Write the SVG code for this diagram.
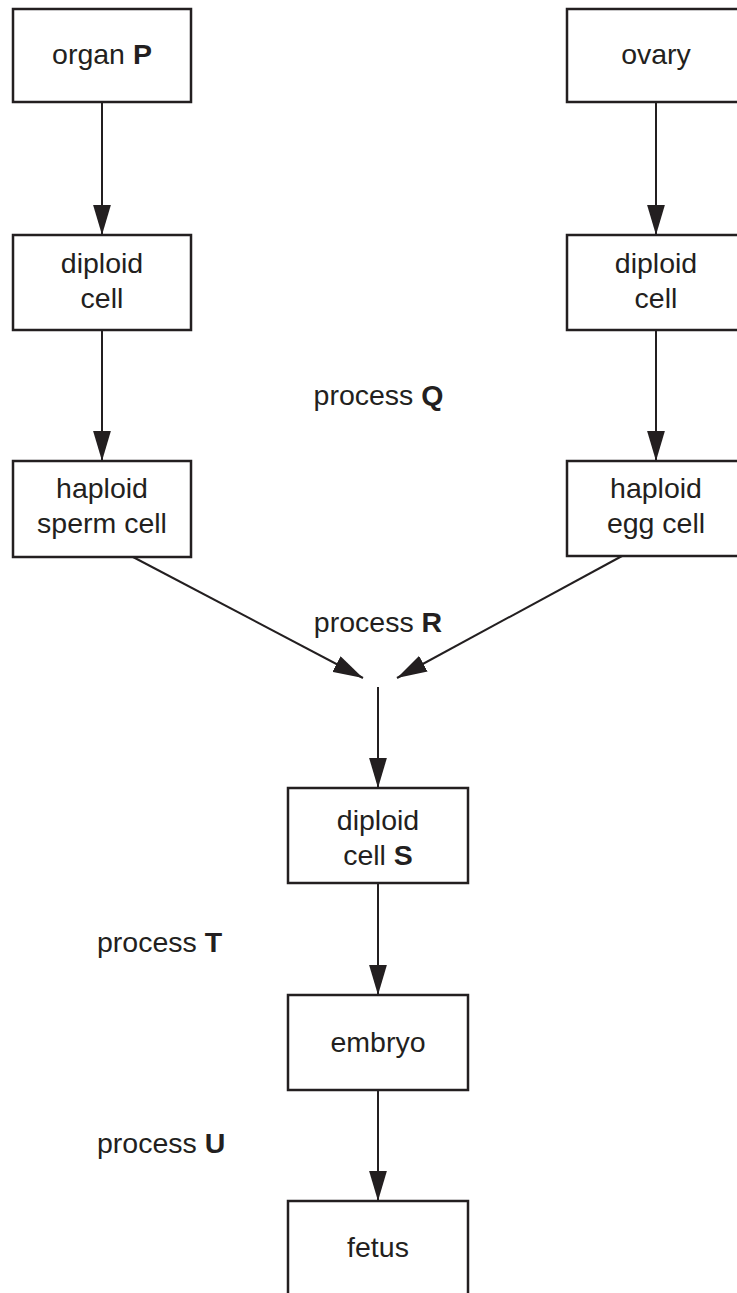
<svg xmlns="http://www.w3.org/2000/svg" width="737" height="1293" viewBox="0 0 737 1293">
<style>
.box{fill:#fff;stroke:#231f20;stroke-width:2.5}
.t{font-family:"Liberation Sans",Arial,sans-serif;font-size:28.5px;fill:#231f20;text-anchor:middle}
.tl{font-family:"Liberation Sans",Arial,sans-serif;font-size:28.5px;fill:#231f20}
.b{font-weight:bold}
.c{stroke:#231f20;stroke-width:2;fill:none;marker-end:url(#ah)}
</style>
<defs>
<marker id="ah" markerUnits="userSpaceOnUse" markerWidth="30" markerHeight="18" viewBox="0 0 27 16" refX="27" refY="8" orient="auto">
<path d="M0,0 L27,8 L0,16 Z" fill="#231f20"/>
</marker>
</defs>
<g id="organP"><rect class="box" x="13" y="9" width="178" height="93"/><text class="t" x="102" y="64">organ <tspan class="b">P</tspan></text></g>
<g id="ovary"><rect class="box" x="567" y="9" width="180" height="93"/><text class="t" x="656" y="64">ovary</text></g>
<g id="diploidL"><rect class="box" x="13" y="235" width="178" height="95"/><text class="t" x="102" y="273">diploid</text><text class="t" x="102" y="308">cell</text></g>
<g id="diploidR"><rect class="box" x="567" y="235" width="180" height="95"/><text class="t" x="656" y="273">diploid</text><text class="t" x="656" y="308">cell</text></g>
<g id="sperm"><rect class="box" x="13" y="461" width="178" height="96"/><text class="t" x="102" y="498">haploid</text><text class="t" x="102" y="533">sperm cell</text></g>
<g id="egg"><rect class="box" x="567" y="461" width="180" height="95"/><text class="t" x="656" y="498">haploid</text><text class="t" x="656" y="533">egg cell</text></g>
<g id="cellS"><rect class="box" x="288" y="788" width="180" height="95"/><text class="t" x="378" y="830">diploid</text><text class="t" x="378" y="865">cell <tspan class="b">S</tspan></text></g>
<g id="embryo"><rect class="box" x="288" y="995" width="180" height="95"/><text class="t" x="378" y="1052">embryo</text></g>
<g id="fetus"><rect class="box" x="288" y="1201" width="180" height="110"/><text class="t" x="378" y="1257">fetus</text></g>
<g id="labels">
<text class="t" x="378.5" y="405">process <tspan class="b">Q</tspan></text>
<text class="t" x="378" y="632">process <tspan class="b">R</tspan></text>
<text class="tl" x="97" y="952">process <tspan class="b">T</tspan></text>
<text class="tl" x="97" y="1153">process <tspan class="b">U</tspan></text>
</g>
<g id="connectors">
<line class="c" x1="102" y1="102" x2="102" y2="235"/>
<line class="c" x1="102" y1="330" x2="102" y2="461"/>
<line class="c" x1="656" y1="102" x2="656" y2="235"/>
<line class="c" x1="656" y1="330" x2="656" y2="461"/>
<line class="c" x1="133" y1="557" x2="363" y2="678"/>
<line class="c" x1="622" y1="556" x2="397" y2="678"/>
<line class="c" x1="378" y1="687" x2="378" y2="788"/>
<line class="c" x1="378" y1="883" x2="378" y2="995"/>
<line class="c" x1="378" y1="1090" x2="378" y2="1201"/>
</g>
</svg>
